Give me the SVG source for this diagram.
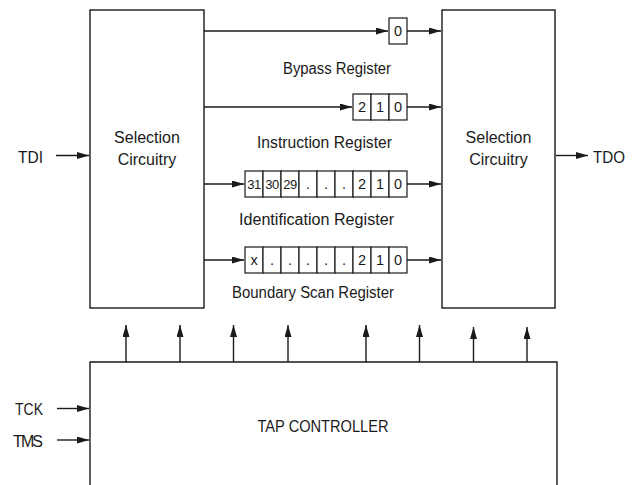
<svg xmlns="http://www.w3.org/2000/svg" width="638" height="485" viewBox="0 0 638 485">
<style>
.box{fill:#fff;stroke:#1a1a1a;stroke-width:1.4}
.cell{fill:#fff;stroke:#1a1a1a;stroke-width:1.2}
.ln{stroke:#1a1a1a;stroke-width:1.4;fill:none}
text{font-family:"Liberation Sans",Arial,sans-serif;font-size:16px;fill:#1a1a1a}
.c{text-anchor:middle}
.d{font-size:14.5px;text-anchor:middle}
.dd{font-size:13px;text-anchor:middle;letter-spacing:-0.6px}
</style>
<defs>
<marker id="ah" markerUnits="userSpaceOnUse" markerWidth="13" markerHeight="8" refX="12" refY="3.5" orient="auto">
<path d="M0,0 L12,3.5 L0,7 z" fill="#1a1a1a"/>
</marker>
</defs>

<g id="sel-left">
<rect class="box" x="90" y="10" width="114" height="298"/>
<text class="c" x="147" y="143">Selection</text>
<text class="c" x="147" y="165">Circuitry</text>
</g>

<g id="sel-right">
<rect class="box" x="442" y="10" width="113" height="298"/>
<text class="c" x="498.5" y="143">Selection</text>
<text class="c" x="498.5" y="165">Circuitry</text>
</g>

<g id="tap">
<path class="box" d="M90,486 L90,362 L557,362 L557,486"/>
<text class="c" x="323" y="432" textLength="131" lengthAdjust="spacingAndGlyphs">TAP CONTROLLER</text>
</g>

<g id="bypass">
<rect class="cell" x="389" y="18" width="18" height="26"/>
<text class="d" x="398" y="36">0</text>
<text class="c" x="337" y="74" textLength="108" lengthAdjust="spacingAndGlyphs">Bypass Register</text>
</g>

<g id="instruction">
<rect class="cell" x="353" y="94" width="18" height="26"/>
<rect class="cell" x="371" y="94" width="18" height="26"/>
<rect class="cell" x="389" y="94" width="18" height="26"/>
<text class="d" x="362" y="112">2</text>
<text class="d" x="380" y="112">1</text>
<text class="d" x="398" y="112">0</text>
<text class="c" x="324.5" y="148" textLength="135" lengthAdjust="spacingAndGlyphs">Instruction Register</text>
</g>

<g id="identification">
<rect class="cell" x="245" y="171" width="18" height="26"/>
<rect class="cell" x="263" y="171" width="18" height="26"/>
<rect class="cell" x="281" y="171" width="18" height="26"/>
<rect class="cell" x="299" y="171" width="18" height="26"/>
<rect class="cell" x="317" y="171" width="18" height="26"/>
<rect class="cell" x="335" y="171" width="18" height="26"/>
<rect class="cell" x="353" y="171" width="18" height="26"/>
<rect class="cell" x="371" y="171" width="18" height="26"/>
<rect class="cell" x="389" y="171" width="18" height="26"/>
<text class="dd" x="254" y="189">31</text>
<text class="dd" x="272" y="189">30</text>
<text class="dd" x="290" y="189">29</text>
<text class="d" x="308" y="189">.</text>
<text class="d" x="326" y="189">.</text>
<text class="d" x="344" y="189">.</text>
<text class="d" x="362" y="189">2</text>
<text class="d" x="380" y="189">1</text>
<text class="d" x="398" y="189">0</text>
<text class="c" x="316.5" y="225" textLength="155" lengthAdjust="spacingAndGlyphs">Identification Register</text>
</g>

<g id="boundary">
<rect class="cell" x="245" y="247" width="18" height="26"/>
<rect class="cell" x="263" y="247" width="18" height="26"/>
<rect class="cell" x="281" y="247" width="18" height="26"/>
<rect class="cell" x="299" y="247" width="18" height="26"/>
<rect class="cell" x="317" y="247" width="18" height="26"/>
<rect class="cell" x="335" y="247" width="18" height="26"/>
<rect class="cell" x="353" y="247" width="18" height="26"/>
<rect class="cell" x="371" y="247" width="18" height="26"/>
<rect class="cell" x="389" y="247" width="18" height="26"/>
<text class="d" x="254" y="265">x</text>
<text class="d" x="272" y="265">.</text>
<text class="d" x="290" y="265">.</text>
<text class="d" x="308" y="265">.</text>
<text class="d" x="326" y="265">.</text>
<text class="d" x="344" y="265">.</text>
<text class="d" x="362" y="265">2</text>
<text class="d" x="380" y="265">1</text>
<text class="d" x="398" y="265">0</text>
<text class="c" x="313" y="298" textLength="162" lengthAdjust="spacingAndGlyphs">Boundary Scan Register</text>
</g>

<g id="labels">
<text x="18" y="163" textLength="25" lengthAdjust="spacingAndGlyphs">TDI</text>
<text x="593" y="163" textLength="32" lengthAdjust="spacingAndGlyphs">TDO</text>
<text x="15" y="415" textLength="28" lengthAdjust="spacingAndGlyphs">TCK</text>
<text x="13" y="446.5" textLength="30" lengthAdjust="spacing">TMS</text>
</g>

<g id="connectors">
<line class="ln" x1="56" y1="155.5" x2="89" y2="155.5" marker-end="url(#ah)"/>
<line class="ln" x1="556" y1="155.5" x2="588" y2="155.5" marker-end="url(#ah)"/>
<line class="ln" x1="57" y1="408.5" x2="89" y2="408.5" marker-end="url(#ah)"/>
<line class="ln" x1="57" y1="440" x2="89" y2="440" marker-end="url(#ah)"/>

<line class="ln" x1="204" y1="31" x2="388" y2="31" marker-end="url(#ah)"/>
<line class="ln" x1="204" y1="107" x2="352" y2="107" marker-end="url(#ah)"/>
<line class="ln" x1="204" y1="184" x2="244" y2="184" marker-end="url(#ah)"/>
<line class="ln" x1="204" y1="260" x2="244" y2="260" marker-end="url(#ah)"/>

<line class="ln" x1="407" y1="31" x2="441" y2="31" marker-end="url(#ah)"/>
<line class="ln" x1="407" y1="107" x2="441" y2="107" marker-end="url(#ah)"/>
<line class="ln" x1="407" y1="184" x2="441" y2="184" marker-end="url(#ah)"/>
<line class="ln" x1="407" y1="260" x2="441" y2="260" marker-end="url(#ah)"/>

<line class="ln" x1="126" y1="362" x2="126" y2="325" marker-end="url(#ah)"/>
<line class="ln" x1="180" y1="362" x2="180" y2="325" marker-end="url(#ah)"/>
<line class="ln" x1="233.5" y1="362" x2="233.5" y2="325" marker-end="url(#ah)"/>
<line class="ln" x1="288" y1="362" x2="288" y2="325" marker-end="url(#ah)"/>
<line class="ln" x1="366" y1="362" x2="366" y2="325" marker-end="url(#ah)"/>
<line class="ln" x1="419.5" y1="362" x2="419.5" y2="325" marker-end="url(#ah)"/>
<line class="ln" x1="473.5" y1="362" x2="473.5" y2="327" marker-end="url(#ah)"/>
<line class="ln" x1="527" y1="362" x2="527" y2="327" marker-end="url(#ah)"/>
</g>
</svg>
